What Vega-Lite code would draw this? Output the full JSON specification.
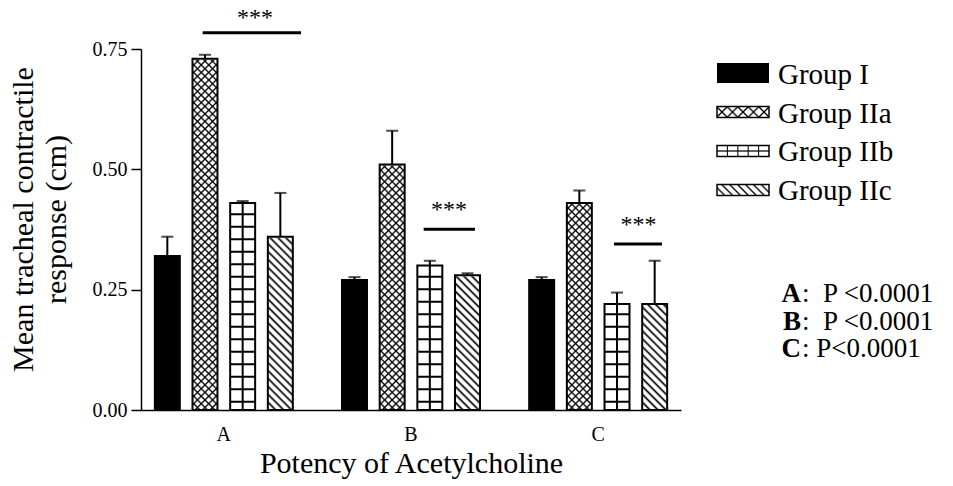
{
"$schema":"https://vega.github.io/schema/vega-lite/v6.json",
"background":"white",
"padding":{"left":8,"top":6,"right":5,"bottom":5},
"bounds":"flush",
"spacing":36,
"datasets":{
"bars":[
{"cat":"A","group":"Group I","value":0.32,"upper":0.36},
{"cat":"A","group":"Group IIa","value":0.73,"upper":0.738},
{"cat":"A","group":"Group IIb","value":0.43,"upper":0.434},
{"cat":"A","group":"Group IIc","value":0.36,"upper":0.451},
{"cat":"B","group":"Group I","value":0.27,"upper":0.276},
{"cat":"B","group":"Group IIa","value":0.51,"upper":0.58},
{"cat":"B","group":"Group IIb","value":0.30,"upper":0.31},
{"cat":"B","group":"Group IIc","value":0.28,"upper":0.284},
{"cat":"C","group":"Group I","value":0.27,"upper":0.276},
{"cat":"C","group":"Group IIa","value":0.43,"upper":0.456},
{"cat":"C","group":"Group IIb","value":0.22,"upper":0.244},
{"cat":"C","group":"Group IIc","value":0.22,"upper":0.31}
],
"sig":[
{"from":0.8873,"to":1.4124,"y":0.7837,"mid":1.1667,"ys":0.8227,"label":"***"},
{"from":2.0678,"to":2.3419,"y":0.3754,"mid":2.203,"ys":0.4228,"label":"***"},
{"from":3.0844,"to":3.3408,"y":0.3449,"mid":3.215,"ys":0.3927,"label":"***"}
],
"legend":[{"group":"Group I"},{"group":"Group IIa"},{"group":"Group IIb"},{"group":"Group IIc"}],
"stats":[
{"letter":"A","rest":":\u00a0\u00a0P <0.0001"},
{"letter":"B","rest":":\u00a0\u00a0P <0.0001"},
{"letter":"C","rest":":\u00a0P<0.0001"}
]
},
"hconcat":[
{
"data":{"name":"bars"},
"width":540,"height":361,
"layer":[
{
"encoding":{
"x":{"field":"cat","type":"nominal","scale":{"domain":["A","B","C"],"paddingInner":0.195,"paddingOuter":0.04},"title":"Potency of Acetylcholine","axis":{"labelAngle":0,"ticks":false,"labelPadding":14,"labelFontSize":20,"titlePadding":4,"titleFontSize":30}},
"xOffset":{"field":"group","type":"nominal","scale":{"domain":["Group I","Group IIa","Group IIb","Group IIc"],"paddingInner":0.337,"paddingOuter":0.1685}},
"y":{"field":"value","type":"quantitative","scale":{"domain":[0,0.75],"nice":false},"title":["Mean tracheal contractile","response (cm)"],"axis":{"values":[0,0.25,0.5,0.75],"format":".2f","tickSize":10,"labelPadding":4,"labelFontSize":20,"titleFontSize":30,"titleLineHeight":33,"titlePadding":21,"titleY":170}}
},
"layer":[
{"transform":[{"filter":"datum.group === 'Group IIa'"}],
"mark":{"type":"bar","fill":{"gradient":"linear","x1":0,"y1":0,"x2":0.0758,"y2":1.0657,"stops":[
{"offset":0,"color":"#000"},{"offset":0.005,"color":"#fff"},
{"offset":0.015,"color":"#fff"},{"offset":0.02,"color":"#000"},{"offset":0.025,"color":"#fff"},
{"offset":0.035,"color":"#fff"},{"offset":0.04,"color":"#000"},{"offset":0.045,"color":"#fff"},
{"offset":0.055,"color":"#fff"},{"offset":0.06,"color":"#000"},{"offset":0.065,"color":"#fff"},
{"offset":0.075,"color":"#fff"},{"offset":0.08,"color":"#000"},{"offset":0.085,"color":"#fff"},
{"offset":0.095,"color":"#fff"},{"offset":0.1,"color":"#000"},{"offset":0.105,"color":"#fff"},
{"offset":0.115,"color":"#fff"},{"offset":0.12,"color":"#000"},{"offset":0.125,"color":"#fff"},
{"offset":0.135,"color":"#fff"},{"offset":0.14,"color":"#000"},{"offset":0.145,"color":"#fff"},
{"offset":0.155,"color":"#fff"},{"offset":0.16,"color":"#000"},{"offset":0.165,"color":"#fff"},
{"offset":0.175,"color":"#fff"},{"offset":0.18,"color":"#000"},{"offset":0.185,"color":"#fff"},
{"offset":0.195,"color":"#fff"},{"offset":0.2,"color":"#000"},{"offset":0.205,"color":"#fff"},
{"offset":0.215,"color":"#fff"},{"offset":0.22,"color":"#000"},{"offset":0.225,"color":"#fff"},
{"offset":0.235,"color":"#fff"},{"offset":0.24,"color":"#000"},{"offset":0.245,"color":"#fff"},
{"offset":0.255,"color":"#fff"},{"offset":0.26,"color":"#000"},{"offset":0.265,"color":"#fff"},
{"offset":0.275,"color":"#fff"},{"offset":0.28,"color":"#000"},{"offset":0.285,"color":"#fff"},
{"offset":0.295,"color":"#fff"},{"offset":0.3,"color":"#000"},{"offset":0.305,"color":"#fff"},
{"offset":0.315,"color":"#fff"},{"offset":0.32,"color":"#000"},{"offset":0.325,"color":"#fff"},
{"offset":0.335,"color":"#fff"},{"offset":0.34,"color":"#000"},{"offset":0.345,"color":"#fff"},
{"offset":0.355,"color":"#fff"},{"offset":0.36,"color":"#000"},{"offset":0.365,"color":"#fff"},
{"offset":0.375,"color":"#fff"},{"offset":0.38,"color":"#000"},{"offset":0.385,"color":"#fff"},
{"offset":0.395,"color":"#fff"},{"offset":0.4,"color":"#000"},{"offset":0.405,"color":"#fff"},
{"offset":0.415,"color":"#fff"},{"offset":0.42,"color":"#000"},{"offset":0.425,"color":"#fff"},
{"offset":0.435,"color":"#fff"},{"offset":0.44,"color":"#000"},{"offset":0.445,"color":"#fff"},
{"offset":0.455,"color":"#fff"},{"offset":0.46,"color":"#000"},{"offset":0.465,"color":"#fff"},
{"offset":0.475,"color":"#fff"},{"offset":0.48,"color":"#000"},{"offset":0.485,"color":"#fff"},
{"offset":0.495,"color":"#fff"},{"offset":0.5,"color":"#000"},{"offset":0.505,"color":"#fff"},
{"offset":0.515,"color":"#fff"},{"offset":0.52,"color":"#000"},{"offset":0.525,"color":"#fff"},
{"offset":0.535,"color":"#fff"},{"offset":0.54,"color":"#000"},{"offset":0.545,"color":"#fff"},
{"offset":0.555,"color":"#fff"},{"offset":0.56,"color":"#000"},{"offset":0.565,"color":"#fff"},
{"offset":0.575,"color":"#fff"},{"offset":0.58,"color":"#000"},{"offset":0.585,"color":"#fff"},
{"offset":0.595,"color":"#fff"},{"offset":0.6,"color":"#000"},{"offset":0.605,"color":"#fff"},
{"offset":0.615,"color":"#fff"},{"offset":0.62,"color":"#000"},{"offset":0.625,"color":"#fff"},
{"offset":0.635,"color":"#fff"},{"offset":0.64,"color":"#000"},{"offset":0.645,"color":"#fff"},
{"offset":0.655,"color":"#fff"},{"offset":0.66,"color":"#000"},{"offset":0.665,"color":"#fff"},
{"offset":0.675,"color":"#fff"},{"offset":0.68,"color":"#000"},{"offset":0.685,"color":"#fff"},
{"offset":0.695,"color":"#fff"},{"offset":0.7,"color":"#000"},{"offset":0.705,"color":"#fff"},
{"offset":0.715,"color":"#fff"},{"offset":0.72,"color":"#000"},{"offset":0.725,"color":"#fff"},
{"offset":0.735,"color":"#fff"},{"offset":0.74,"color":"#000"},{"offset":0.745,"color":"#fff"},
{"offset":0.755,"color":"#fff"},{"offset":0.76,"color":"#000"},{"offset":0.765,"color":"#fff"},
{"offset":0.775,"color":"#fff"},{"offset":0.78,"color":"#000"},{"offset":0.785,"color":"#fff"},
{"offset":0.795,"color":"#fff"},{"offset":0.8,"color":"#000"},{"offset":0.805,"color":"#fff"},
{"offset":0.815,"color":"#fff"},{"offset":0.82,"color":"#000"},{"offset":0.825,"color":"#fff"},
{"offset":0.835,"color":"#fff"},{"offset":0.84,"color":"#000"},{"offset":0.845,"color":"#fff"},
{"offset":0.855,"color":"#fff"},{"offset":0.86,"color":"#000"},{"offset":0.865,"color":"#fff"},
{"offset":0.875,"color":"#fff"},{"offset":0.88,"color":"#000"},{"offset":0.885,"color":"#fff"},
{"offset":0.895,"color":"#fff"},{"offset":0.9,"color":"#000"},{"offset":0.905,"color":"#fff"},
{"offset":0.915,"color":"#fff"},{"offset":0.92,"color":"#000"},{"offset":0.925,"color":"#fff"},
{"offset":0.935,"color":"#fff"},{"offset":0.94,"color":"#000"},{"offset":0.945,"color":"#fff"},
{"offset":0.955,"color":"#fff"},{"offset":0.96,"color":"#000"},{"offset":0.965,"color":"#fff"},
{"offset":0.975,"color":"#fff"},{"offset":0.98,"color":"#000"},{"offset":0.985,"color":"#fff"},
{"offset":0.995,"color":"#fff"},{"offset":1,"color":"#000"}
]}},
"encoding":{"y":{"datum":0.73,"type":"quantitative","scale":{"domain":[0,0.75],"nice":false}},"y2":{"datum":0}}},
{"transform":[{"filter":"datum.group === 'Group IIa'"}],
"mark":{"type":"bar","fill":{"gradient":"linear","x1":0,"y1":1,"x2":0.0758,"y2":-0.0657,"stops":[
{"offset":0,"color":"#000"},{"offset":0.005,"color":"transparent"},
{"offset":0.015,"color":"transparent"},{"offset":0.02,"color":"#000"},{"offset":0.025,"color":"transparent"},
{"offset":0.035,"color":"transparent"},{"offset":0.04,"color":"#000"},{"offset":0.045,"color":"transparent"},
{"offset":0.055,"color":"transparent"},{"offset":0.06,"color":"#000"},{"offset":0.065,"color":"transparent"},
{"offset":0.075,"color":"transparent"},{"offset":0.08,"color":"#000"},{"offset":0.085,"color":"transparent"},
{"offset":0.095,"color":"transparent"},{"offset":0.1,"color":"#000"},{"offset":0.105,"color":"transparent"},
{"offset":0.115,"color":"transparent"},{"offset":0.12,"color":"#000"},{"offset":0.125,"color":"transparent"},
{"offset":0.135,"color":"transparent"},{"offset":0.14,"color":"#000"},{"offset":0.145,"color":"transparent"},
{"offset":0.155,"color":"transparent"},{"offset":0.16,"color":"#000"},{"offset":0.165,"color":"transparent"},
{"offset":0.175,"color":"transparent"},{"offset":0.18,"color":"#000"},{"offset":0.185,"color":"transparent"},
{"offset":0.195,"color":"transparent"},{"offset":0.2,"color":"#000"},{"offset":0.205,"color":"transparent"},
{"offset":0.215,"color":"transparent"},{"offset":0.22,"color":"#000"},{"offset":0.225,"color":"transparent"},
{"offset":0.235,"color":"transparent"},{"offset":0.24,"color":"#000"},{"offset":0.245,"color":"transparent"},
{"offset":0.255,"color":"transparent"},{"offset":0.26,"color":"#000"},{"offset":0.265,"color":"transparent"},
{"offset":0.275,"color":"transparent"},{"offset":0.28,"color":"#000"},{"offset":0.285,"color":"transparent"},
{"offset":0.295,"color":"transparent"},{"offset":0.3,"color":"#000"},{"offset":0.305,"color":"transparent"},
{"offset":0.315,"color":"transparent"},{"offset":0.32,"color":"#000"},{"offset":0.325,"color":"transparent"},
{"offset":0.335,"color":"transparent"},{"offset":0.34,"color":"#000"},{"offset":0.345,"color":"transparent"},
{"offset":0.355,"color":"transparent"},{"offset":0.36,"color":"#000"},{"offset":0.365,"color":"transparent"},
{"offset":0.375,"color":"transparent"},{"offset":0.38,"color":"#000"},{"offset":0.385,"color":"transparent"},
{"offset":0.395,"color":"transparent"},{"offset":0.4,"color":"#000"},{"offset":0.405,"color":"transparent"},
{"offset":0.415,"color":"transparent"},{"offset":0.42,"color":"#000"},{"offset":0.425,"color":"transparent"},
{"offset":0.435,"color":"transparent"},{"offset":0.44,"color":"#000"},{"offset":0.445,"color":"transparent"},
{"offset":0.455,"color":"transparent"},{"offset":0.46,"color":"#000"},{"offset":0.465,"color":"transparent"},
{"offset":0.475,"color":"transparent"},{"offset":0.48,"color":"#000"},{"offset":0.485,"color":"transparent"},
{"offset":0.495,"color":"transparent"},{"offset":0.5,"color":"#000"},{"offset":0.505,"color":"transparent"},
{"offset":0.515,"color":"transparent"},{"offset":0.52,"color":"#000"},{"offset":0.525,"color":"transparent"},
{"offset":0.535,"color":"transparent"},{"offset":0.54,"color":"#000"},{"offset":0.545,"color":"transparent"},
{"offset":0.555,"color":"transparent"},{"offset":0.56,"color":"#000"},{"offset":0.565,"color":"transparent"},
{"offset":0.575,"color":"transparent"},{"offset":0.58,"color":"#000"},{"offset":0.585,"color":"transparent"},
{"offset":0.595,"color":"transparent"},{"offset":0.6,"color":"#000"},{"offset":0.605,"color":"transparent"},
{"offset":0.615,"color":"transparent"},{"offset":0.62,"color":"#000"},{"offset":0.625,"color":"transparent"},
{"offset":0.635,"color":"transparent"},{"offset":0.64,"color":"#000"},{"offset":0.645,"color":"transparent"},
{"offset":0.655,"color":"transparent"},{"offset":0.66,"color":"#000"},{"offset":0.665,"color":"transparent"},
{"offset":0.675,"color":"transparent"},{"offset":0.68,"color":"#000"},{"offset":0.685,"color":"transparent"},
{"offset":0.695,"color":"transparent"},{"offset":0.7,"color":"#000"},{"offset":0.705,"color":"transparent"},
{"offset":0.715,"color":"transparent"},{"offset":0.72,"color":"#000"},{"offset":0.725,"color":"transparent"},
{"offset":0.735,"color":"transparent"},{"offset":0.74,"color":"#000"},{"offset":0.745,"color":"transparent"},
{"offset":0.755,"color":"transparent"},{"offset":0.76,"color":"#000"},{"offset":0.765,"color":"transparent"},
{"offset":0.775,"color":"transparent"},{"offset":0.78,"color":"#000"},{"offset":0.785,"color":"transparent"},
{"offset":0.795,"color":"transparent"},{"offset":0.8,"color":"#000"},{"offset":0.805,"color":"transparent"},
{"offset":0.815,"color":"transparent"},{"offset":0.82,"color":"#000"},{"offset":0.825,"color":"transparent"},
{"offset":0.835,"color":"transparent"},{"offset":0.84,"color":"#000"},{"offset":0.845,"color":"transparent"},
{"offset":0.855,"color":"transparent"},{"offset":0.86,"color":"#000"},{"offset":0.865,"color":"transparent"},
{"offset":0.875,"color":"transparent"},{"offset":0.88,"color":"#000"},{"offset":0.885,"color":"transparent"},
{"offset":0.895,"color":"transparent"},{"offset":0.9,"color":"#000"},{"offset":0.905,"color":"transparent"},
{"offset":0.915,"color":"transparent"},{"offset":0.92,"color":"#000"},{"offset":0.925,"color":"transparent"},
{"offset":0.935,"color":"transparent"},{"offset":0.94,"color":"#000"},{"offset":0.945,"color":"transparent"},
{"offset":0.955,"color":"transparent"},{"offset":0.96,"color":"#000"},{"offset":0.965,"color":"transparent"},
{"offset":0.975,"color":"transparent"},{"offset":0.98,"color":"#000"},{"offset":0.985,"color":"transparent"},
{"offset":0.995,"color":"transparent"},{"offset":1,"color":"#000"}
]}},
"encoding":{"y":{"datum":0.73,"type":"quantitative","scale":{"domain":[0,0.75],"nice":false}},"y2":{"datum":0}}},
{"transform":[{"filter":"datum.group === 'Group IIc'"}],
"mark":{"type":"bar","fill":{"gradient":"linear","x1":0,"y1":1,"x2":0.1617,"y2":-0.121,"stops":[
{"offset":0,"color":"#000"},{"offset":0.012,"color":"#fff"},
{"offset":0.028,"color":"#fff"},{"offset":0.04,"color":"#000"},{"offset":0.052,"color":"#fff"},
{"offset":0.068,"color":"#fff"},{"offset":0.08,"color":"#000"},{"offset":0.092,"color":"#fff"},
{"offset":0.108,"color":"#fff"},{"offset":0.12,"color":"#000"},{"offset":0.132,"color":"#fff"},
{"offset":0.148,"color":"#fff"},{"offset":0.16,"color":"#000"},{"offset":0.172,"color":"#fff"},
{"offset":0.188,"color":"#fff"},{"offset":0.2,"color":"#000"},{"offset":0.212,"color":"#fff"},
{"offset":0.228,"color":"#fff"},{"offset":0.24,"color":"#000"},{"offset":0.252,"color":"#fff"},
{"offset":0.268,"color":"#fff"},{"offset":0.28,"color":"#000"},{"offset":0.292,"color":"#fff"},
{"offset":0.308,"color":"#fff"},{"offset":0.32,"color":"#000"},{"offset":0.332,"color":"#fff"},
{"offset":0.348,"color":"#fff"},{"offset":0.36,"color":"#000"},{"offset":0.372,"color":"#fff"},
{"offset":0.388,"color":"#fff"},{"offset":0.4,"color":"#000"},{"offset":0.412,"color":"#fff"},
{"offset":0.428,"color":"#fff"},{"offset":0.44,"color":"#000"},{"offset":0.452,"color":"#fff"},
{"offset":0.468,"color":"#fff"},{"offset":0.48,"color":"#000"},{"offset":0.492,"color":"#fff"},
{"offset":0.508,"color":"#fff"},{"offset":0.52,"color":"#000"},{"offset":0.532,"color":"#fff"},
{"offset":0.548,"color":"#fff"},{"offset":0.56,"color":"#000"},{"offset":0.572,"color":"#fff"},
{"offset":0.588,"color":"#fff"},{"offset":0.6,"color":"#000"},{"offset":0.612,"color":"#fff"},
{"offset":0.628,"color":"#fff"},{"offset":0.64,"color":"#000"},{"offset":0.652,"color":"#fff"},
{"offset":0.668,"color":"#fff"},{"offset":0.68,"color":"#000"},{"offset":0.692,"color":"#fff"},
{"offset":0.708,"color":"#fff"},{"offset":0.72,"color":"#000"},{"offset":0.732,"color":"#fff"},
{"offset":0.748,"color":"#fff"},{"offset":0.76,"color":"#000"},{"offset":0.772,"color":"#fff"},
{"offset":0.788,"color":"#fff"},{"offset":0.8,"color":"#000"},{"offset":0.812,"color":"#fff"},
{"offset":0.828,"color":"#fff"},{"offset":0.84,"color":"#000"},{"offset":0.852,"color":"#fff"},
{"offset":0.868,"color":"#fff"},{"offset":0.88,"color":"#000"},{"offset":0.892,"color":"#fff"},
{"offset":0.908,"color":"#fff"},{"offset":0.92,"color":"#000"},{"offset":0.932,"color":"#fff"},
{"offset":0.948,"color":"#fff"},{"offset":0.96,"color":"#000"},{"offset":0.972,"color":"#fff"},
{"offset":0.988,"color":"#fff"},{"offset":1,"color":"#000"}
]}},
"encoding":{"y":{"datum":0.36,"type":"quantitative","scale":{"domain":[0,0.75],"nice":false}},"y2":{"datum":0}}},
{"transform":[{"filter":"datum.group === 'Group IIa' || datum.group === 'Group IIc'"}],
"mark":{"type":"bar","fill":"white","stroke":"white","strokeWidth":2},
"encoding":{"y2":{"datum":0.75}}},
{"transform":[{"filter":"datum.group === 'Group IIb'"}],
"mark":{"type":"rule","strokeWidth":25,"strokeDash":[2,10.5],"strokeDashOffset":5.2,"color":"black"},
"encoding":{"y":{"datum":0,"type":"quantitative","scale":{"domain":[0,0.75],"nice":false}},"y2":{"field":"value"}}},
{"transform":[{"filter":"datum.group === 'Group IIb'"}],
"mark":{"type":"rule","strokeWidth":2,"color":"black"},
"encoding":{"y2":{"datum":0}}},
{"mark":{"type":"bar","stroke":"black","strokeWidth":2},
"encoding":{"fill":{"condition":{"test":"datum.group === 'Group I'","value":"black"},"value":"transparent"}}},
{"mark":{"type":"rule","strokeWidth":2,"color":"black"},
"encoding":{"y2":{"field":"upper"}}},
{"mark":{"type":"tick","size":12,"thickness":2,"color":"black"},
"encoding":{"y":{"field":"upper","type":"quantitative","scale":{"domain":[0,0.75],"nice":false}}}}
]
},
{
"data":{"name":"sig"},
"encoding":{"x":{"field":"from","type":"quantitative","scale":{"domain":[0.5577,3.4426],"nice":false,"zero":false},"axis":null}},
"layer":[
{"mark":{"type":"rule","strokeWidth":3,"color":"black"},
"encoding":{"x2":{"field":"to"},"y":{"field":"y","type":"quantitative","scale":{"domain":[0,0.75],"nice":false}}}},
{"mark":{"type":"text","fontSize":24,"baseline":"alphabetic","dy":11,"color":"black","font":"Liberation Serif"},
"encoding":{"x":{"field":"mid","type":"quantitative","scale":{"domain":[0.5577,3.4426],"nice":false,"zero":false},"axis":null},"y":{"field":"ys","type":"quantitative","scale":{"domain":[0,0.75],"nice":false}},"text":{"field":"label"}}}
]
}
],
"resolve":{"scale":{"x":"independent"}}
},
{
"vconcat":[
{
"data":{"name":"legend"},
"width":52,"height":165,
"encoding":{
"y":{"field":"group","type":"nominal","scale":{"type":"band","domain":["Group I","Group IIa","Group IIb","Group IIc"],"paddingInner":0,"paddingOuter":0.1154},"axis":null},
"x":{"datum":0,"type":"quantitative","scale":{"domain":[0,1],"nice":false},"axis":null},
"x2":{"datum":1}
},
"layer":[
{"transform":[{"filter":"datum.group === 'Group I'"}],"mark":{"type":"bar","height":20,"fill":"black"}},
{"transform":[{"filter":"datum.group === 'Group IIa'"}],"mark":{"type":"bar","height":11,"fill":{"gradient":"linear","x1":0,"y1":0,"x2":1.1597,"y2":0.2453,"stops":[
{"offset":0,"color":"#000"},{"offset":0.03,"color":"#fff"},{"offset":0.1367,"color":"#fff"},{"offset":0.1667,"color":"#000"},{"offset":0.1967,"color":"#fff"},{"offset":0.3033,"color":"#fff"},{"offset":0.3333,"color":"#000"},{"offset":0.3633,"color":"#fff"},{"offset":0.47,"color":"#fff"},{"offset":0.5,"color":"#000"},{"offset":0.53,"color":"#fff"},{"offset":0.6367,"color":"#fff"},{"offset":0.6667,"color":"#000"},{"offset":0.6967,"color":"#fff"},{"offset":0.8033,"color":"#fff"},{"offset":0.8333,"color":"#000"},{"offset":0.8633,"color":"#fff"},{"offset":0.97,"color":"#fff"},{"offset":1,"color":"#000"}
]}}},
{"transform":[{"filter":"datum.group === 'Group IIa'"}],"mark":{"type":"bar","height":11,"fill":{"gradient":"linear","x1":0,"y1":1,"x2":1.1597,"y2":0.7547,"stops":[
{"offset":0,"color":"#000"},{"offset":0.03,"color":"transparent"},{"offset":0.1367,"color":"transparent"},{"offset":0.1667,"color":"#000"},{"offset":0.1967,"color":"transparent"},{"offset":0.3033,"color":"transparent"},{"offset":0.3333,"color":"#000"},{"offset":0.3633,"color":"transparent"},{"offset":0.47,"color":"transparent"},{"offset":0.5,"color":"#000"},{"offset":0.53,"color":"transparent"},{"offset":0.6367,"color":"transparent"},{"offset":0.6667,"color":"#000"},{"offset":0.6967,"color":"transparent"},{"offset":0.8033,"color":"transparent"},{"offset":0.8333,"color":"#000"},{"offset":0.8633,"color":"transparent"},{"offset":0.97,"color":"transparent"},{"offset":1,"color":"#000"}
]}}},
{"transform":[{"filter":"datum.group === 'Group IIb'"}],"mark":{"type":"bar","height":11,"fill":{"gradient":"linear","x1":0,"y1":0,"x2":1,"y2":0,"stops":[
{"offset":0,"color":"#fff"},{"offset":0.18,"color":"#fff"},{"offset":0.2,"color":"#000"},{"offset":0.22,"color":"#fff"},{"offset":0.38,"color":"#fff"},{"offset":0.4,"color":"#000"},{"offset":0.42,"color":"#fff"},{"offset":0.58,"color":"#fff"},{"offset":0.6,"color":"#000"},{"offset":0.62,"color":"#fff"},{"offset":0.78,"color":"#fff"},{"offset":0.8,"color":"#000"},{"offset":0.82,"color":"#fff"},{"offset":1,"color":"#fff"}
]}}},
{"transform":[{"filter":"datum.group === 'Group IIb'"}],"mark":{"type":"bar","height":11,"fill":{"gradient":"linear","x1":0,"y1":0,"x2":0,"y2":1,"stops":[
{"offset":0,"color":"transparent"},{"offset":0.38,"color":"transparent"},{"offset":0.5,"color":"#000"},{"offset":0.62,"color":"transparent"},{"offset":1,"color":"transparent"}
]}}},
{"transform":[{"filter":"datum.group === 'Group IIc'"}],"mark":{"type":"bar","height":11,"fill":{"gradient":"linear","x1":0,"y1":1,"x2":1.1597,"y2":0.7547,"stops":[
{"offset":0,"color":"#000"},{"offset":0.03,"color":"#fff"},{"offset":0.095,"color":"#fff"},{"offset":0.125,"color":"#000"},{"offset":0.155,"color":"#fff"},{"offset":0.22,"color":"#fff"},{"offset":0.25,"color":"#000"},{"offset":0.28,"color":"#fff"},{"offset":0.345,"color":"#fff"},{"offset":0.375,"color":"#000"},{"offset":0.405,"color":"#fff"},{"offset":0.47,"color":"#fff"},{"offset":0.5,"color":"#000"},{"offset":0.53,"color":"#fff"},{"offset":0.595,"color":"#fff"},{"offset":0.625,"color":"#000"},{"offset":0.655,"color":"#fff"},{"offset":0.72,"color":"#fff"},{"offset":0.75,"color":"#000"},{"offset":0.78,"color":"#fff"},{"offset":0.845,"color":"#fff"},{"offset":0.875,"color":"#000"},{"offset":0.905,"color":"#fff"},{"offset":0.97,"color":"#fff"},{"offset":1,"color":"#000"}
]}}},
{"transform":[{"filter":"datum.group !== 'Group I'"}],"mark":{"type":"bar","height":11,"fill":"transparent","stroke":"black","strokeWidth":1.5}},
{"mark":{"type":"text","align":"left","baseline":"alphabetic","dx":9,"dy":10.5,"fontSize":29,"font":"Liberation Serif","color":"black"},
"encoding":{"x":{"datum":1,"type":"quantitative"},"text":{"field":"group"}}}
]
},
{
"data":{"name":"stats"},
"width":168,"height":82.5,
"encoding":{"y":{"field":"letter","type":"nominal","scale":{"type":"band","domain":["A","B","C"],"paddingInner":0,"paddingOuter":0},"axis":null}},
"layer":[
{"mark":{"type":"text","align":"right","baseline":"alphabetic","dy":10,"fontSize":27,"fontWeight":"bold","font":"Liberation Serif","color":"black"},"encoding":{"text":{"field":"letter"}}},
{"mark":{"type":"text","align":"left","baseline":"alphabetic","dx":1,"dy":10,"fontSize":27,"font":"Liberation Serif","color":"black"},"encoding":{"text":{"field":"rest"}}}
]
}
],
"spacing":64.25,
"bounds":"flush"
}
],
"config":{
"view":{"stroke":null},
"font":"Liberation Serif",
"axis":{"domainColor":"black","domainWidth":1.5,"tickColor":"black","tickWidth":1.5,"labelColor":"black","titleColor":"black","titleFontWeight":"normal","grid":false,"labelFont":"Liberation Serif","titleFont":"Liberation Serif"}
}
}
